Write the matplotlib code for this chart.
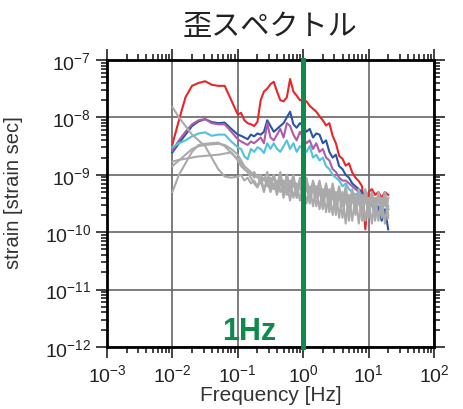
import numpy as np
import matplotlib
matplotlib.use('Agg')
import matplotlib.pyplot as plt

plt.rcParams['font.family'] = ['Liberation Sans', 'DejaVu Sans']
plt.rcParams['mathtext.fontset'] = 'custom'
plt.rcParams['mathtext.rm'] = 'Liberation Sans'

# log10 of frequency [Hz]
logf = [-2.0, -1.9, -1.8, -1.7, -1.6, -1.5, -1.4, -1.3, -1.2, -1.1, -1.0,
        -0.95, -0.9, -0.85, -0.8, -0.75, -0.7, -0.65, -0.6, -0.55, -0.5,
        -0.45, -0.4, -0.35, -0.3, -0.25, -0.2, -0.15, -0.1, -0.05, 0.0,
        0.05, 0.1, 0.15, 0.2, 0.25, 0.3, 0.35, 0.4, 0.45, 0.5,
        0.55, 0.6, 0.65, 0.7, 0.75, 0.8, 0.85, 0.9, 0.95, 1.0,
        1.05, 1.1, 1.15, 1.2, 1.25, 1.3]

# log10 of strain spectra
red = [-8.47, -8.05, -7.65, -7.45, -7.40, -7.37, -7.43, -7.45, -7.45, -7.70, -7.95,
       -7.92, -8.05, -8.10, -8.12, -8.15, -8.08, -7.70, -7.55, -7.50, -7.42,
       -7.38, -7.55, -7.70, -7.72, -7.65, -7.33, -7.55, -7.62, -7.70, -7.68,
       -7.72, -7.80, -7.85, -7.90, -7.98, -8.05, -8.14, -8.10, -8.32, -8.45,
       -8.67, -8.72, -8.84, -8.80, -8.96, -9.05, -9.11, -9.20, -9.95, -9.30,
       -9.25, -9.35, -9.30, -9.40, -9.30, -9.35]
blue = [-8.61, -8.45, -8.30, -8.15, -8.07, -8.03, -8.08, -8.10, -8.09, -8.20, -8.30,
        -8.32, -8.35, -8.38, -8.30, -8.33, -8.28, -8.30, -8.25, -8.05, -8.15,
        -8.25, -8.20, -8.15, -8.10, -8.00, -7.90, -8.12, -8.18, -8.10, -8.15,
        -8.25, -8.20, -8.35, -8.28, -8.30, -8.45, -8.40, -8.60, -8.70, -8.65,
        -8.85, -8.90, -9.00, -9.05, -9.15, -9.20, -9.25, -9.30, -9.40, -9.45,
        -9.50, -9.70, -9.55, -9.80, -9.60, -9.95]
purple = [-8.58, -8.40, -8.25, -8.12, -8.05, -8.03, -8.10, -8.12, -8.12, -8.25, -8.38,
          -8.42, -8.45, -8.48, -8.42, -8.45, -8.40, -8.35, -8.45, -8.10, -8.35,
          -8.40, -8.30, -8.20, -8.35, -8.10, -8.15, -8.30, -8.40, -8.25, -8.35,
          -8.45, -8.40, -8.55, -8.45, -8.60, -8.55, -8.70, -8.75, -8.90, -8.95,
          -9.05, -9.10, -9.10, -9.15, -9.20, -9.25, -9.30, -9.35, -9.40, -9.45,
          -9.40, -9.50, -9.45, -9.55, -9.50, -9.60]
cyan = [-8.52, -8.45, -8.40, -8.33, -8.28, -8.26, -8.32, -8.30, -8.30, -8.42, -8.52,
        -8.55, -8.68, -8.73, -8.55, -8.60, -8.52, -8.55, -8.62, -8.45, -8.55,
        -8.45, -8.55, -8.60, -8.50, -8.40, -8.55, -8.45, -8.60, -8.50, -8.55,
        -8.60, -8.50, -8.70, -8.65, -8.75, -8.70, -8.85, -8.90, -9.00, -9.05,
        -9.10, -9.20, -9.15, -9.25, -9.30, -9.35, -9.30, -9.40, -9.35, -9.45,
        -9.40, -9.50, -9.45, -9.55, -9.50, -9.55]
gray_a = [-7.82, -8.00, -8.15, -8.30, -8.40, -8.50, -8.70, -8.90, -9.03, -9.05, -9.03,
          -9.00, -9.10, -9.05, -9.15, -9.10, -9.20, -9.05, -9.25, -9.10, -9.30,
          -9.15, -9.35, -9.10, -9.40, -9.15, -9.45, -9.10, -9.40, -9.15, -9.45,
          -9.20, -9.50, -9.20, -9.55, -9.25, -9.60, -9.25, -9.65, -9.30, -9.70,
          -9.30, -9.75, -9.35, -9.80, -9.35, -9.70, -9.40, -9.80, -9.35, -9.75,
          -9.40, -9.80, -9.35, -9.75, -9.40, -9.70]
gray_b = [-9.30, -9.00, -8.80, -8.60, -8.48, -8.46, -8.45, -8.44, -8.50, -8.62, -8.72,
          -8.80, -8.90, -8.95, -9.05, -9.15, -9.22, -9.10, -9.30, -9.05, -9.25,
          -9.00, -9.30, -9.05, -9.35, -9.00, -9.30, -9.05, -9.40, -9.10, -9.35,
          -9.10, -9.45, -9.15, -9.40, -9.15, -9.50, -9.20, -9.55, -9.20, -9.60,
          -9.25, -9.55, -9.25, -9.65, -9.30, -9.60, -9.30, -9.70, -9.30, -9.65,
          -9.30, -9.75, -9.30, -9.70, -9.30, -9.75]
gray_c = [-8.77, -8.74, -8.72, -8.70, -8.68, -8.67, -8.66, -8.65, -8.63, -8.61, -8.75,
          -8.85, -8.90, -8.95, -9.00, -8.95, -9.05, -9.00, -9.10, -8.95, -9.15,
          -9.00, -9.20, -8.95, -9.25, -9.00, -9.20, -9.00, -9.30, -9.05, -9.25,
          -9.05, -9.35, -9.10, -9.30, -9.10, -9.40, -9.15, -9.45, -9.15, -9.45,
          -9.20, -9.50, -9.20, -9.55, -9.25, -9.55, -9.25, -9.60, -9.25, -9.55,
          -9.30, -9.60, -9.30, -9.55, -9.30, -9.60]
gray_d = [-8.85, -8.75, -8.65, -8.55, -8.50, -8.48, -8.47, -8.46, -8.48, -8.55, -8.65,
          -8.75, -8.85, -8.90, -8.95, -9.05, -9.00, -9.15, -9.05, -9.20, -9.05,
          -9.25, -9.10, -9.30, -9.10, -9.35, -9.10, -9.40, -9.15, -9.45, -9.15,
          -9.50, -9.20, -9.55, -9.20, -9.60, -9.25, -9.65, -9.25, -9.70, -9.30,
          -9.75, -9.30, -9.85, -9.35, -9.80, -9.35, -9.85, -9.35, -9.80, -9.40,
          -9.85, -9.40, -9.80, -9.40, -9.85, -9.40]

f = 10 ** np.array(logf)

fig = plt.figure(figsize=(4.64, 4.10), dpi=100)
ax = fig.add_axes([0.2306, 0.1512, 0.7047, 0.70])

for s, c in [(red, '#e8262a'), (blue, '#2a55a5'), (purple, '#b05aa8'), (cyan, '#4fc3dc')]:
    ax.plot(f, 10 ** np.array(s), color=c, lw=1.5)
for s in [gray_a, gray_b, gray_c, gray_d]:
    ax.plot(f, 10 ** np.array(s), color='#aaaaaa', lw=1.5)

ax.axvline(1.0, color='#0e8a4c', lw=3.6, zorder=5, clip_on=False)
ax.text(0.15, 1.4e-12, '1Hz', color='#0e8a4c', fontsize=22, fontweight='bold',
        ha='center', va='baseline')

ax.set_xscale('log')
ax.set_yscale('log')
ax.set_xlim(1e-3, 1e2)
ax.set_ylim(1e-12, 1e-7)
ax.grid(True, which='major', color='#666666', lw=1.2)
ax.tick_params(which='both', direction='out', top=True, right=True,
               labelsize=14, colors='#222222', width=1.2)
ax.tick_params(which='major', length=8)
ax.tick_params(which='minor', length=4.5)
for sp in ax.spines.values():
    sp.set_linewidth(2)

ax.set_xlabel('Frequency [Hz]', fontsize=15, color='#333333', labelpad=0)
ax.set_ylabel('strain [strain sec]', fontsize=14.5, color='#333333',
              family=['Liberation Sans Narrow', 'Liberation Sans'])
ax.yaxis.set_label_coords(-0.257, 0.542)
ax.set_title('歪スペクトル', fontsize=21, family=['Noto Sans CJK JP', 'DejaVu Sans'],
             color='#222222', pad=19)

fig.savefig('out.png', dpi=100)
